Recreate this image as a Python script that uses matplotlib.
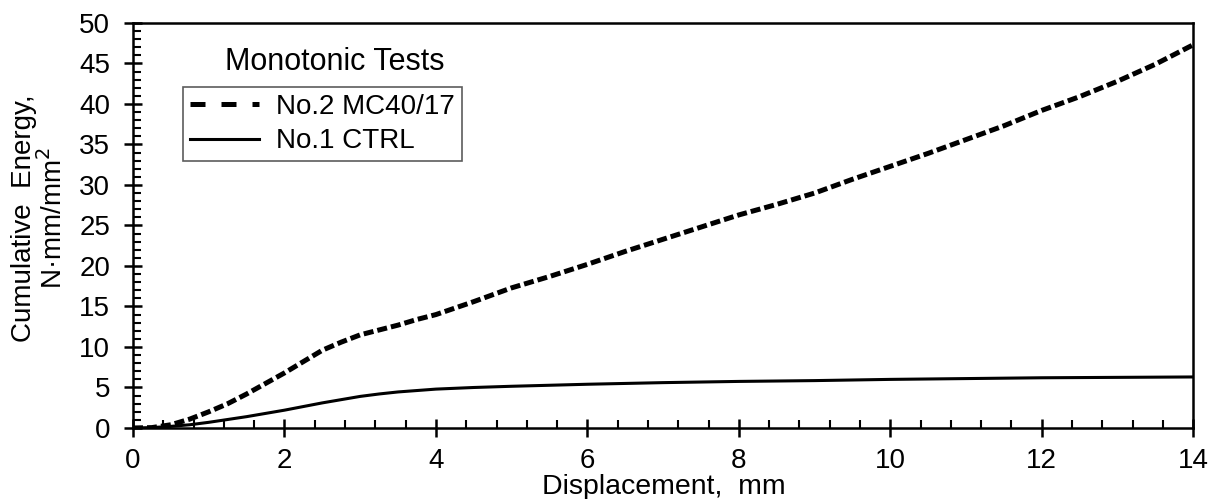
import matplotlib
matplotlib.use("Agg")
import matplotlib.pyplot as plt
from matplotlib.ticker import MultipleLocator
from matplotlib.lines import Line2D

plt.rcParams['font.family'] = ['Liberation Sans', 'DejaVu Sans']

# Data
x_mc = [0, 0.25, 0.5, 0.75, 1.0, 1.25, 1.5, 1.75, 2.0, 2.25, 2.5, 2.75, 3.0, 3.25, 3.5, 3.75,
        4.0, 4.5, 5.0, 5.5, 6.0, 6.5, 7.0, 7.5, 8.0, 8.5, 9.0, 9.5, 10.0, 10.5, 11.0,
        11.5, 12.0, 12.5, 13.0, 13.5, 14.0]
y_mc = [0, 0.05, 0.4, 1.1, 2.0, 3.0, 4.2, 5.5, 6.8, 8.2, 9.6, 10.6, 11.5, 12.1, 12.7, 13.4,
        14.0, 15.6, 17.3, 18.7, 20.2, 21.8, 23.3, 24.8, 26.3, 27.6, 29.0, 30.7, 32.3, 33.9, 35.6,
        37.3, 39.2, 40.9, 42.8, 44.9, 47.3]

x_ctrl = [0, 0.25, 0.5, 0.75, 1.0, 1.5, 2.0, 2.5, 3.0, 3.25, 3.5, 4.0, 4.5, 5.0, 6.0, 7.0, 8.0,
          9.0, 10.0, 11.0, 12.0, 13.0, 14.0]
y_ctrl = [0, 0.05, 0.2, 0.4, 0.7, 1.4, 2.2, 3.1, 3.9, 4.2, 4.45, 4.8, 5.0, 5.15, 5.4, 5.6, 5.75,
          5.85, 6.0, 6.1, 6.2, 6.25, 6.3]

label_mc = "No.2 MC40/17"
label_ctrl = "No.1 CTRL"
legend_title = "Monotonic Tests"

fig = plt.figure(figsize=(12.15, 4.99), dpi=100)
ax = fig.add_axes([0.1095, 0.1423, 0.8725, 0.8117])

ax.plot(x_mc, y_mc, color='black', lw=3.6, ls=(0, (2.0, 0.8)), label=label_mc)
ax.plot(x_ctrl, y_ctrl, color='black', lw=2.2, ls='-', label=label_ctrl)

ax.set_xlim(0, 14)
ax.set_ylim(0, 50)
ax.xaxis.set_major_locator(MultipleLocator(2))
ax.xaxis.set_minor_locator(MultipleLocator(0.4))
ax.yaxis.set_major_locator(MultipleLocator(5))
ax.yaxis.set_minor_locator(MultipleLocator(1))
ax.tick_params(which='major', direction='inout', length=13, width=1.8, labelsize=20, colors='black')
ax.tick_params(axis='x', which='major', pad=8)
ax.tick_params(axis='y', which='major', pad=10)
ax.tick_params(which='minor', direction='in', length=6, width=1.5)
for s in ax.spines.values():
    s.set_linewidth(1.8)

ax.set_xlabel("Displacement,  mm", fontsize=20.5)
ax.xaxis.set_label_coords(0.501, -0.113)
ax.set_ylabel("Cumulative  Energy,\nN·mm/mm$^2$", fontsize=20, linespacing=1.07)
ax.yaxis.set_label_coords(-0.061, 0.518)

handles = [Line2D([], [], color='black', lw=3.6, ls=(0, (3.0, 3.2))),
           Line2D([], [], color='black', lw=2.2, ls='-')]
leg = ax.legend(handles, [label_mc, label_ctrl], loc='upper left', bbox_to_anchor=(0.047, 0.842),
                fontsize=20, frameon=True, fancybox=False, edgecolor='#333333',
                handlelength=2.5, handletextpad=0.6, borderpad=0.25, labelspacing=0.3,
                borderaxespad=0)
leg.get_frame().set_linewidth(1.2)
ax.text(0.19, 0.904, legend_title, transform=ax.transAxes, fontsize=22, ha='center', va='center')

fig.savefig("out.png", dpi=100)
